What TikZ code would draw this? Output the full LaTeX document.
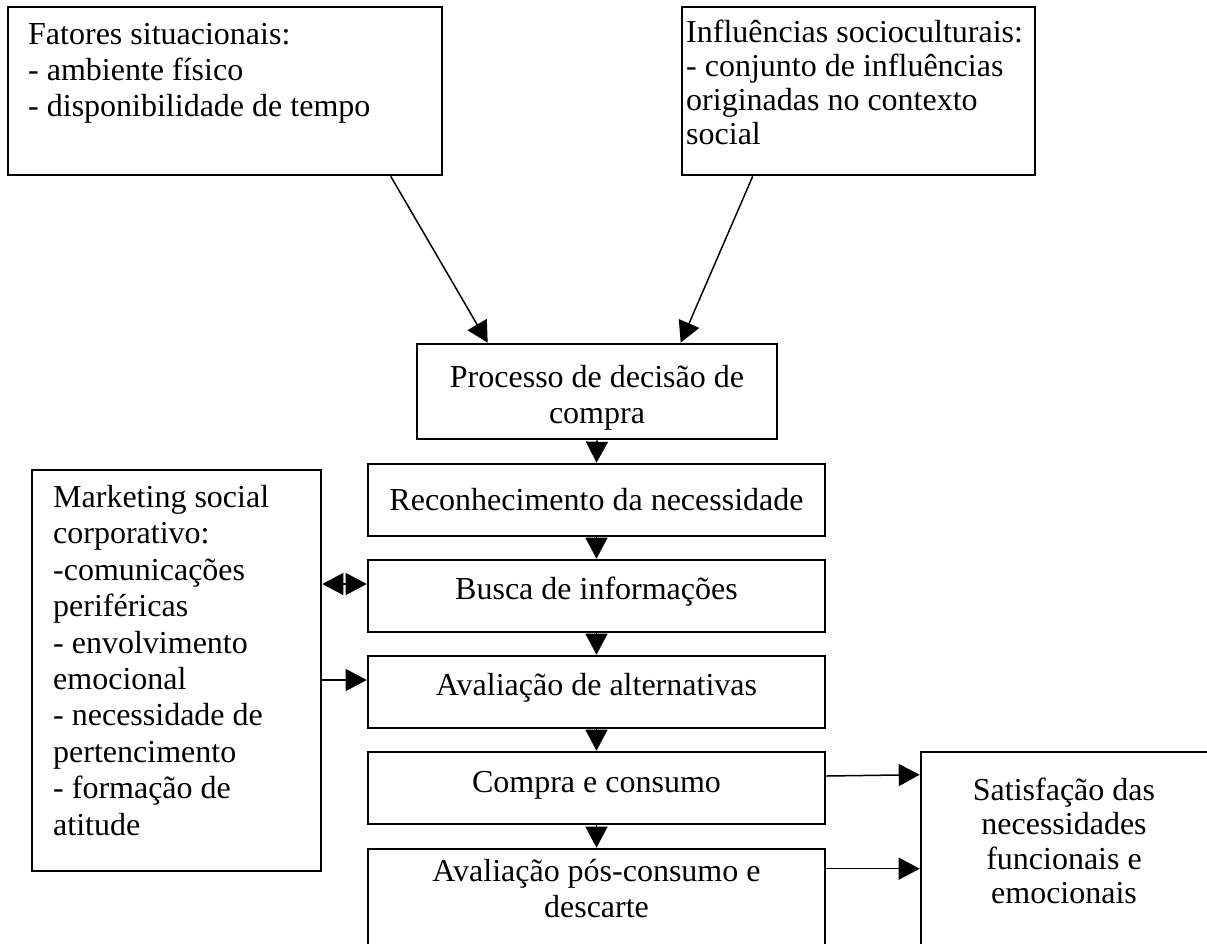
\documentclass[tikz,border=0pt]{standalone}
\usepackage{fontspec}
\setmainfont{Liberation Serif}
\usetikzlibrary{arrows.meta}
\begin{document}
\begin{tikzpicture}[x=1pt,y=-1pt,
  boxnode/.style={draw=black,line width=2.6pt,inner sep=0pt,minimum width=#1},
  txt/.style={inner sep=0pt,font=\fontsize{32}{36}\selectfont},
  arr/.style={line width=1.5pt,-{Triangle[length=21pt,width=22pt]}},
  darr/.style={line width=1.5pt,{Triangle[length=21pt,width=22pt]}-{Triangle[length=21pt,width=22pt]}}]
\useasboundingbox (0,0) rectangle (1207,943);
\fill[white] (0,0) rectangle (1207,943);
\clip (0,0) rectangle (1207,943);
% boxes
\node[boxnode=434pt,minimum height=168pt] (fat) at (225,91) {};
\node[boxnode=353pt,minimum height=168pt] (infl) at (858.5,91) {};
\node[boxnode=360pt,minimum height=95pt] (proc) at (597,391.5) {};
\node[boxnode=457pt,minimum height=72pt] (rec) at (596.5,500) {};
\node[boxnode=457pt,minimum height=72pt] (bus) at (596.5,596) {};
\node[boxnode=457pt,minimum height=72pt] (ava) at (596.5,692) {};
\node[boxnode=457pt,minimum height=72pt] (comp) at (596.5,788) {};
\node[boxnode=457pt,minimum height=131pt] (pos) at (596.5,914.5) {};
\node[boxnode=289pt,minimum height=401pt] (mkt) at (176.5,670.5) {};
\node[boxnode=319pt,minimum height=238pt] (sat) at (1080.5,871) {};
% texts
\node[txt,anchor=north west,align=left] (fatT) at (28,23)
  {Fatores situacionais:\\- ambiente físico\\- disponibilidade de tempo};
\node[txt,anchor=north west,align=left,font=\fontsize{32}{34}\selectfont] (inflT) at (686,20)
  {Influências socioculturais:\\- conjunto de influências\\originadas no contexto\\social};
\node[txt,align=center] (procT) at (597,398) {Processo de decisão de\\compra};
\node[txt] (recT) at (596.5,500) {Reconhecimento da necessidade};
\node[txt] (busT) at (596.5,592) {Busca de informações};
\node[txt] (avaT) at (596.5,688) {Avaliação de alternativas};
\node[txt] (compT) at (596.5,785) {Compra e consumo};
\node[txt,align=center] (posT) at (596.5,889) {Avaliação pós-consumo e\\descarte};
\node[txt,anchor=north west,align=left,font=\fontsize{32}{36.4}\selectfont] (mktT) at (53,485)
  {Marketing social\\corporativo:\\-comunicações\\periféricas\\- envolvimento\\emocional\\- necessidade de\\pertencimento\\- formação de\\atitude};
\node[txt,align=center,font=\fontsize{32}{34.5}\selectfont] (satT) at (1064,841)
  {Satisfação das\\necessidades\\funcionais e\\emocionais};
% connectors
\draw[arr] ([xshift=384pt]fat.south west) -- ([xshift=72pt]proc.north west);
\draw[arr] ([xshift=72pt]infl.south west) -- ([xshift=265pt]proc.north west);
\draw[arr] (proc.south) -- (rec.north);
\draw[arr] (rec.south) -- (bus.north);
\draw[arr] (bus.south) -- (ava.north);
\draw[arr] (ava.south) -- (comp.north);
\draw[arr] (comp.south) -- (pos.north);
\draw[darr] ([yshift=86.5pt]mkt.east) -- ([yshift=12pt]bus.west);
\draw[arr] ([yshift=-9.5pt]mkt.east) -- ([yshift=12pt]ava.west);
\draw[arr] ([yshift=12pt]comp.east) -- ([yshift=-24pt]sat.north west);
\draw[arr] ([yshift=-21pt]pos.north east) -- ([yshift=-118pt]sat.north west);
\end{tikzpicture}
\end{document}
